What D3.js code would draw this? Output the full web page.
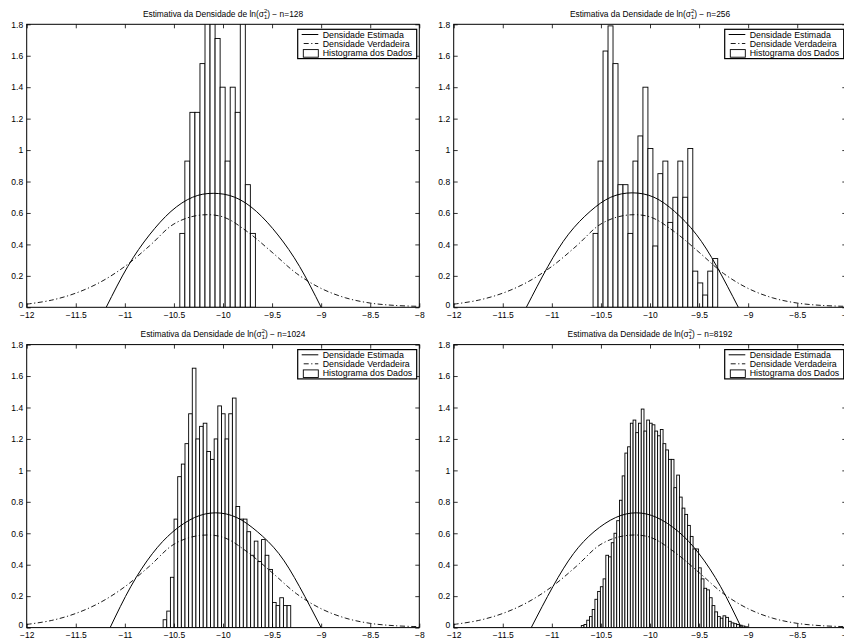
<!DOCTYPE html>
<html>
<head>
<meta charset="utf-8">
<script src="https://cdn.jsdelivr.net/npm/d3@7"></script>
<style>
  body { margin: 0; background: #fff; }
  text { font-family: "Liberation Sans", Arial, sans-serif; }
</style>
</head>
<body>
<div id="canvas"></div>
<script>
"use strict"

/* tick labels */
let xTicks = [-12, -11.5, -11, -10.5, -10, -9.5, -9, -8.5, -8];
let yTicks = [0, 0.2, 0.4, 0.6, 0.8, 1, 1.2, 1.4, 1.6, 1.8];
let sampleSizes = [128, 256, 1024, 8192];
let legendLabels = ["Densidade Estimada", "Densidade Verdadeira", "Histograma dos Dados"];

/* histograms: first and last bin edge, then bar heights */
let histRange128 = [-10.44, -9.67];
let hist128 = [0.47, 0.93, 1.24, 1.24, 1.55, 2.2, 2.3, 1.71, 1.40, 0.93, 1.40, 1.24, 2.0, 0.78, 0.47];

let histRange256 = [-10.58, -9.31];
let hist256 = [0.47, 0.93, 1.63, 1.79, 1.55, 0.78, 0.78, 0.47, 0.93, 1.09, 1.40, 1.01, 0.39,
  0.85, 0.93, 0.54, 0.70, 0.93, 0.70, 1.01, 0.23, 0.155, 0.078, 0.23, 0.31];

let histRange1024 = [-10.61, -9.31];
let hist1024 = [0.05, 0.105, 0.32, 0.69, 0.96, 1.04, 1.17, 1.36, 1.65, 1.20, 1.28, 1.30, 1.12,
  1.07, 1.20, 1.41, 1.36, 1.20, 1.36, 1.46, 0.77, 0.69, 0.69, 0.61, 0.46, 0.55, 0.42, 0.56,
  0.46, 0.37, 0.16, 0.14, 0.19, 0.14, 0.14];

let histRange8192 = [-10.70, -9.006];
let hist8192 = [0.013, 0.02, 0.047, 0.07, 0.115, 0.18, 0.23, 0.26, 0.31, 0.46,
  0.45, 0.54, 0.60, 0.68, 0.81, 0.965, 1.11, 1.15, 1.30, 1.32,
  1.24, 1.30, 1.39, 1.25, 1.32, 1.30, 1.29, 1.25, 1.22, 1.26,
  1.17, 1.13, 1.07, 1.07, 0.89, 0.97, 0.83, 0.76, 0.72, 0.65,
  0.58, 0.50, 0.50, 0.38, 0.31, 0.25, 0.24, 0.19, 0.14, 0.10,
  0.07, 0.06, 0.075, 0.065, 0.04, 0.03, 0.025, 0.02, 0.015, 0.01, 0.005];

/* true density (dash-dot), same in every panel */
let trueX = [-12, -11.75, -11.5, -11.25, -11, -10.75, -10.5, -10.25, -10, -9.75, -9.5, -9.25, -9, -8.75, -8.5, -8.25, -8];
let trueY = [0.02, 0.045, 0.09, 0.16, 0.26, 0.39, 0.53, 0.585, 0.575, 0.48, 0.35, 0.215, 0.12, 0.06, 0.027, 0.012, 0.006];

/* estimated density (solid) for each n */
let estX128 = [-11.19, -10.97, -10.75, -10.53, -10.31, -10.10, -9.88, -9.66, -9.44, -9.22, -9.00];
let estY128 = [0, 0.26, 0.46, 0.61, 0.70, 0.725, 0.70, 0.61, 0.46, 0.26, 0];
let estX256 = [-11.26, -11.04, -10.83, -10.61, -10.40, -10.18, -9.96, -9.75, -9.53, -9.32, -9.10];
let estY256 = [0, 0.26, 0.465, 0.61, 0.70, 0.728, 0.70, 0.61, 0.465, 0.26, 0];
let estX1024 = [-11.15, -10.94, -10.72, -10.51, -10.29, -10.075, -9.86, -9.65, -9.43, -9.22, -9.00];
let estY1024 = [0, 0.26, 0.47, 0.61, 0.70, 0.73, 0.70, 0.61, 0.47, 0.26, 0];
let estX8192 = [-11.21, -10.99, -10.78, -10.57, -10.35, -10.14, -9.93, -9.71, -9.50, -9.28, -9.07];
let estY8192 = [0, 0.26, 0.47, 0.61, 0.70, 0.73, 0.70, 0.61, 0.47, 0.26, 0];

/* panel table built from the arrays above */
let panels = [
  { n: sampleSizes[0], range: histRange128, hist: hist128, estX: estX128, estY: estY128 },
  { n: sampleSizes[1], range: histRange256, hist: hist256, estX: estX256, estY: estY256 },
  { n: sampleSizes[2], range: histRange1024, hist: hist1024, estX: estX1024, estY: estY1024 },
  { n: sampleSizes[3], range: histRange8192, hist: hist8192, estX: estX8192, estY: estY8192 }
];

/* layout */
let panelW = 392.6;
let panelH = 283;
let panelPos = [[26.7, 24.3], [453.7, 24.3], [26.7, 344.6], [453.7, 344.6]];

let drawing = d3.select("#canvas")
    .append("svg")
    .attr("width", 844)
    .attr("height", 641);

let fmt = d => String(d).replace("-", "\u2212");

panels.forEach((p, i) => {
  let g = drawing.append("g")
    .attr("transform", `translate(${panelPos[i][0]},${panelPos[i][1]})`);

  let x = d3.scaleLinear().domain([-12, -8]).range([0, panelW]);
  let y = d3.scaleLinear().domain([0, 1.8]).range([panelH, 0]);

  /* clip */
  g.append("clipPath").attr("id", "clip" + i)
    .append("rect").attr("width", panelW).attr("height", panelH);

  let plot = g.append("g").attr("clip-path", `url(#clip${i})`);

  /* histogram bars */
  let w = (p.range[1] - p.range[0]) / p.hist.length;
  plot.selectAll("rect.bar")
    .data(p.hist)
    .join("rect")
    .attr("class", "bar")
    .attr("x", (d, j) => x(p.range[0] + j * w))
    .attr("width", (d, j) => x(p.range[0] + (j + 1) * w) - x(p.range[0] + j * w))
    .attr("y", d => y(d))
    .attr("height", d => y(0) - y(d))
    .attr("fill", "white")
    .attr("stroke", "black")
    .attr("stroke-width", 0.9);

  /* true density */
  let trueLine = d3.line()
    .x(d => x(d[0])).y(d => y(d[1]))
    .curve(d3.curveCatmullRom);
  plot.append("path")
    .attr("d", trueLine(d3.zip(trueX, trueY)))
    .attr("fill", "none")
    .attr("stroke", "black")
    .attr("stroke-width", 0.9)
    .attr("stroke-dasharray", "5,2.5,1.2,2.5");

  /* estimated density */
  let estLine = d3.line()
    .x(d => x(d[0])).y(d => y(d[1]))
    .curve(d3.curveNatural);
  plot.append("path")
    .attr("d", estLine(d3.zip(p.estX, p.estY)))
    .attr("fill", "none")
    .attr("stroke", "black")
    .attr("stroke-width", 1);

  /* axes, ticks pointing inward */
  let bottom = g.append("g")
    .attr("transform", `translate(0,${panelH})`)
    .call(d3.axisBottom(x).tickValues(xTicks).tickSize(-4).tickPadding(4.5).tickFormat(fmt));
  let left = g.append("g")
    .call(d3.axisLeft(y).tickValues(yTicks).tickSize(-4).tickPadding(3.5).tickFormat(fmt));
  let top = g.append("g")
    .call(d3.axisTop(x).tickValues(xTicks).tickSize(-4).tickFormat(""));
  let right = g.append("g")
    .attr("transform", `translate(${panelW},0)`)
    .call(d3.axisRight(y).tickValues(yTicks).tickSize(-4).tickFormat(""));

  [bottom, left, top, right].forEach(a => {
    a.select(".domain").remove();
    a.attr("font-family", null).attr("font-size", 8.5);
    a.selectAll("line").attr("stroke", "black").attr("stroke-width", 0.8);
    a.selectAll("text").attr("fill", "black");
  });

  /* lift the "0" label so it clears the x labels */
  left.selectAll(".tick text").filter(d => d === 0).attr("dy", "0.02em");

  /* frame */
  g.append("rect")
    .attr("width", panelW)
    .attr("height", panelH)
    .attr("fill", "none")
    .attr("stroke", "black")
    .attr("stroke-width", 1);

  /* title */
  let title = g.append("text")
    .attr("x", panelW / 2)
    .attr("y", -7.7)
    .attr("text-anchor", "middle")
    .attr("font-size", 8.4);
  title.append("tspan").text("Estimativa da Densidade de ln(\u03c3");
  title.append("tspan").attr("font-size", 5.8).attr("dy", 2).text("1");
  title.append("tspan").attr("font-size", 5.8).attr("dx", -3.2).attr("dy", -6).text("2");
  title.append("tspan").attr("dy", 4).text(") \u2212 n=" + p.n);

  /* legend */
  let lg = g.append("g")
    .attr("transform", `translate(${panelW - 121.6},5)`);
  lg.append("rect")
    .attr("width", 119)
    .attr("height", 29.3)
    .attr("fill", "white")
    .attr("stroke", "black")
    .attr("stroke-width", 1.2);

  lg.append("line")
    .attr("x1", 4).attr("x2", 20.6)
    .attr("y1", 5.2).attr("y2", 5.2)
    .attr("stroke", "black").attr("stroke-width", 1);
  lg.append("line")
    .attr("x1", 4).attr("x2", 20.6)
    .attr("y1", 14.2).attr("y2", 14.2)
    .attr("stroke", "black").attr("stroke-width", 0.9)
    .attr("stroke-dasharray", "5,2.5,1.2,2.5")
    .attr("stroke-dashoffset", -2);
  lg.append("rect")
    .attr("x", 5.6).attr("y", 20.3)
    .attr("width", 15).attr("height", 7.6)
    .attr("fill", "white")
    .attr("stroke", "black").attr("stroke-width", 0.9);

  lg.selectAll("text.lab")
    .data(legendLabels)
    .join("text")
    .attr("class", "lab")
    .attr("x", 25)
    .attr("y", (d, j) => 8.3 + j * 9.2)
    .attr("font-size", 8.8)
    .text(d => d);
});
</script>
</body>
</html>
